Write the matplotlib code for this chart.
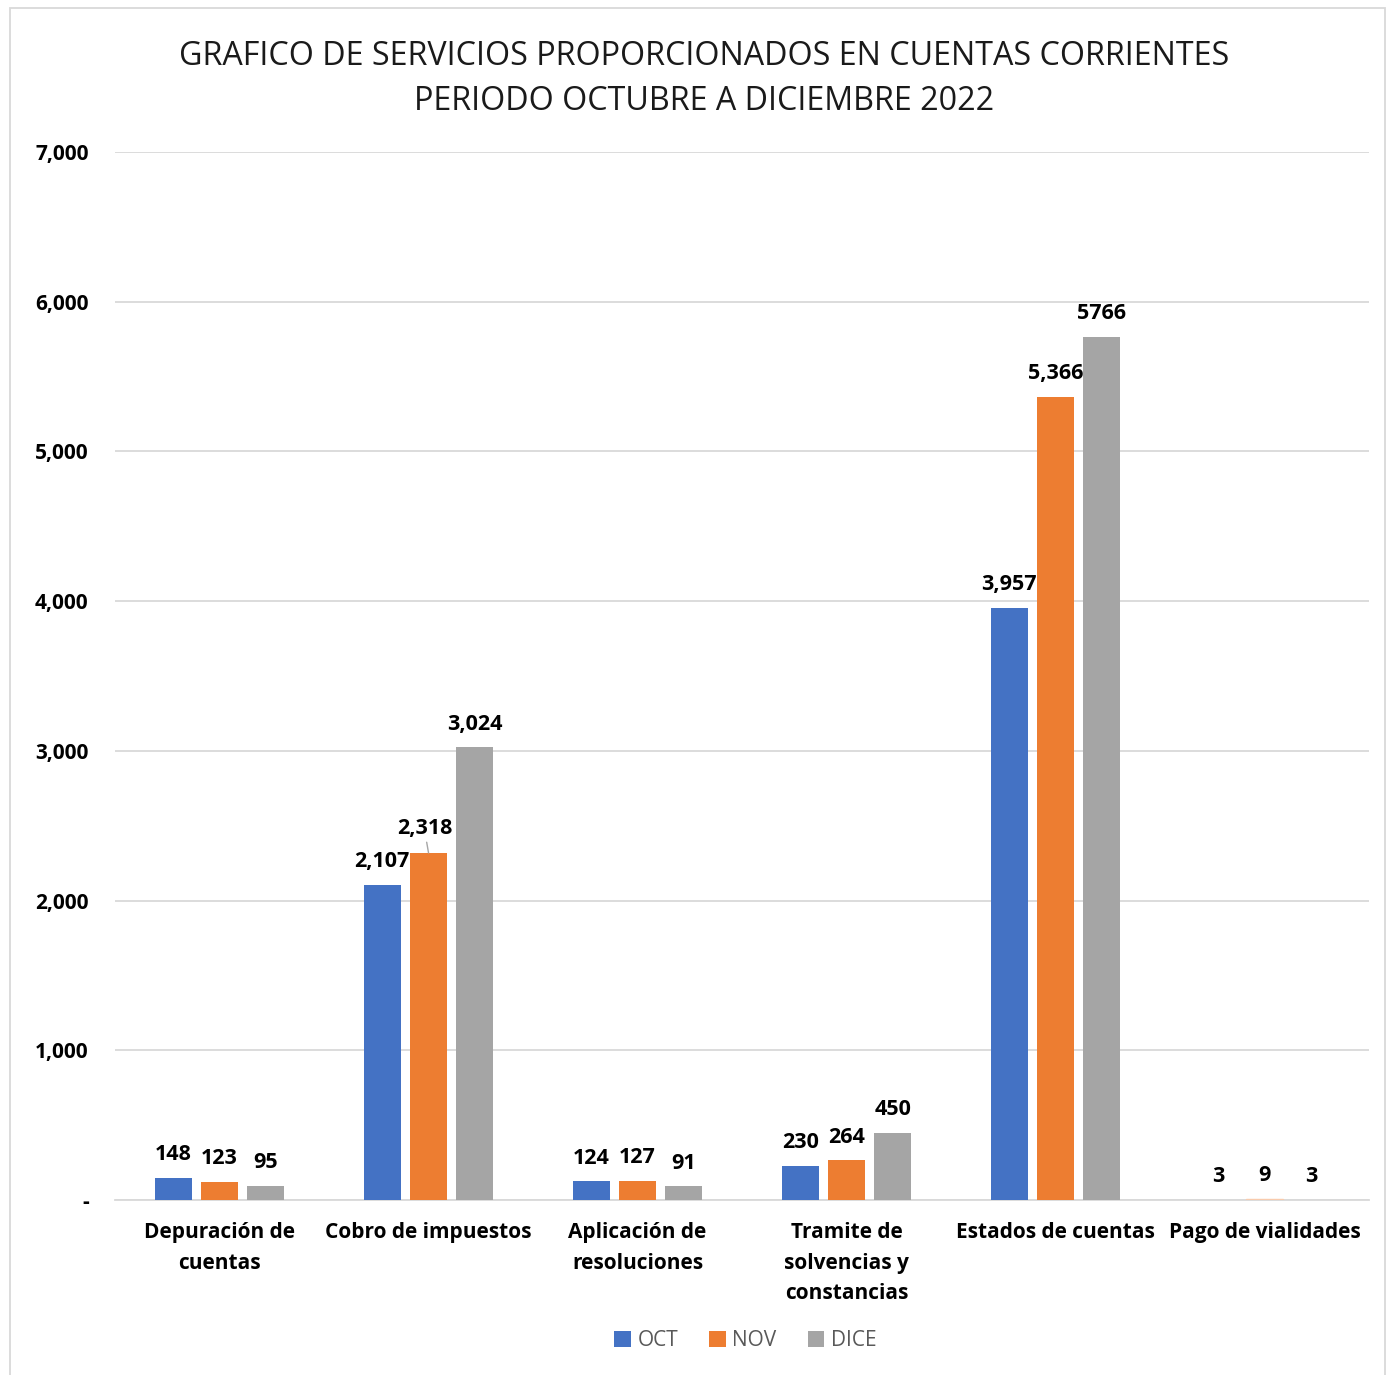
import numpy as np
import matplotlib.pyplot as plt
from matplotlib.patches import Rectangle

plt.rcParams['font.family'] = ['Open Sans', 'DejaVu Sans']

# categories and values
categorias = ["Depuración de\ncuentas", "Cobro de impuestos", "Aplicación de\nresoluciones",
              "Tramite de\nsolvencias y\nconstancias", "Estados de cuentas", "Pago de vialidades"]
oct_vals = [148, 2107, 124, 230, 3957, 3]
nov_vals = [123, 2318, 127, 264, 5366, 9]
dic_vals = [95, 3024, 91, 450, 5766, 3]
series_names = ["OCT", "NOV", "DICE"]
colores = ["#4472C4", "#ED7D31", "#A5A5A5"]

fig = plt.figure(figsize=(13.88, 13.75), dpi=100)
ax = fig.add_axes([0.0829, 0.1273, 0.9034, 0.7622])

x = np.arange(len(categorias))
w = 0.177
step = 0.222

series = [oct_vals, nov_vals, dic_vals]
for i, (vals, name, col) in enumerate(zip(series, series_names, colores)):
    pos = x + (i - 1) * step
    bars = ax.bar(pos, vals, w, color=col, label=name, zorder=3)
    for j, (p, v) in enumerate(zip(pos, vals)):
        txt = f"{v:,}"
        if name == "DICE" and j == 4:
            txt = f"{v}"
        if name == "NOV" and j == 1:
            # label lifted a bit, with leader line
            ax.annotate(txt, xy=(p, v), xytext=(p - 0.02, v + 90), ha='center', va='bottom',
                        fontsize=15.5, fontweight='bold',
                        arrowprops=dict(arrowstyle='-', color='#a6a6a6', lw=1, shrinkA=0, shrinkB=0))
            continue
        ax.annotate(txt, xy=(p, v), xytext=(0, 9), textcoords='offset points',
                    ha='center', va='bottom', fontsize=15.5, fontweight='bold')

# lighten the tiny bar of the last group
ax.patches[len(categorias) + 5].set_color('#F8CBAD')

ax.set_xlim(-0.5, len(categorias) - 0.5)
ax.set_ylim(0, 7000)
ax.set_yticks(np.arange(0, 7001, 1000))
ax.set_yticklabels(['-' if v == 0 else f"{v:,}" for v in range(0, 7001, 1000)],
                   fontsize=15, fontweight='bold')
ax.set_xticks(x)
ax.set_xticklabels(categorias, fontsize=15, fontweight='bold', linespacing=1.6)
ax.tick_params(axis='y', length=0, pad=19)
ax.tick_params(axis='x', length=0, pad=16)
ax.grid(axis='y', color='#d9d9d9', lw=1.3, zorder=0)
for s in ['top', 'right', 'left']:
    ax.spines[s].set_visible(False)
ax.spines['bottom'].set_color('#d9d9d9')
ax.spines['bottom'].set_linewidth(1.3)

fig.text(0.507, 0.959, "GRAFICO DE SERVICIOS PROPORCIONADOS EN CUENTAS CORRIENTES",
         ha='center', va='center', fontsize=23.2, color='#1a1a1a')
fig.text(0.507, 0.926, "PERIODO OCTUBRE A DICIEMBRE 2022",
         ha='center', va='center', fontsize=23.2, color='#1a1a1a')

leg = fig.legend(loc='center', bbox_to_anchor=(0.537, 0.025), ncol=3, frameon=False,
                 fontsize=15, handlelength=0.8, handleheight=0.8, columnspacing=1.5,
                 handletextpad=0.3)
for t in leg.get_texts():
    t.set_color('#595959')

fig.patches.append(Rectangle((10 / 1388, -0.01), 1375 / 1388, 1 - 8 / 1375 + 0.01,
                             transform=fig.transFigure, fill=False, edgecolor='#d9d9d9', lw=1.3))

fig.savefig("out.png", dpi=100)
